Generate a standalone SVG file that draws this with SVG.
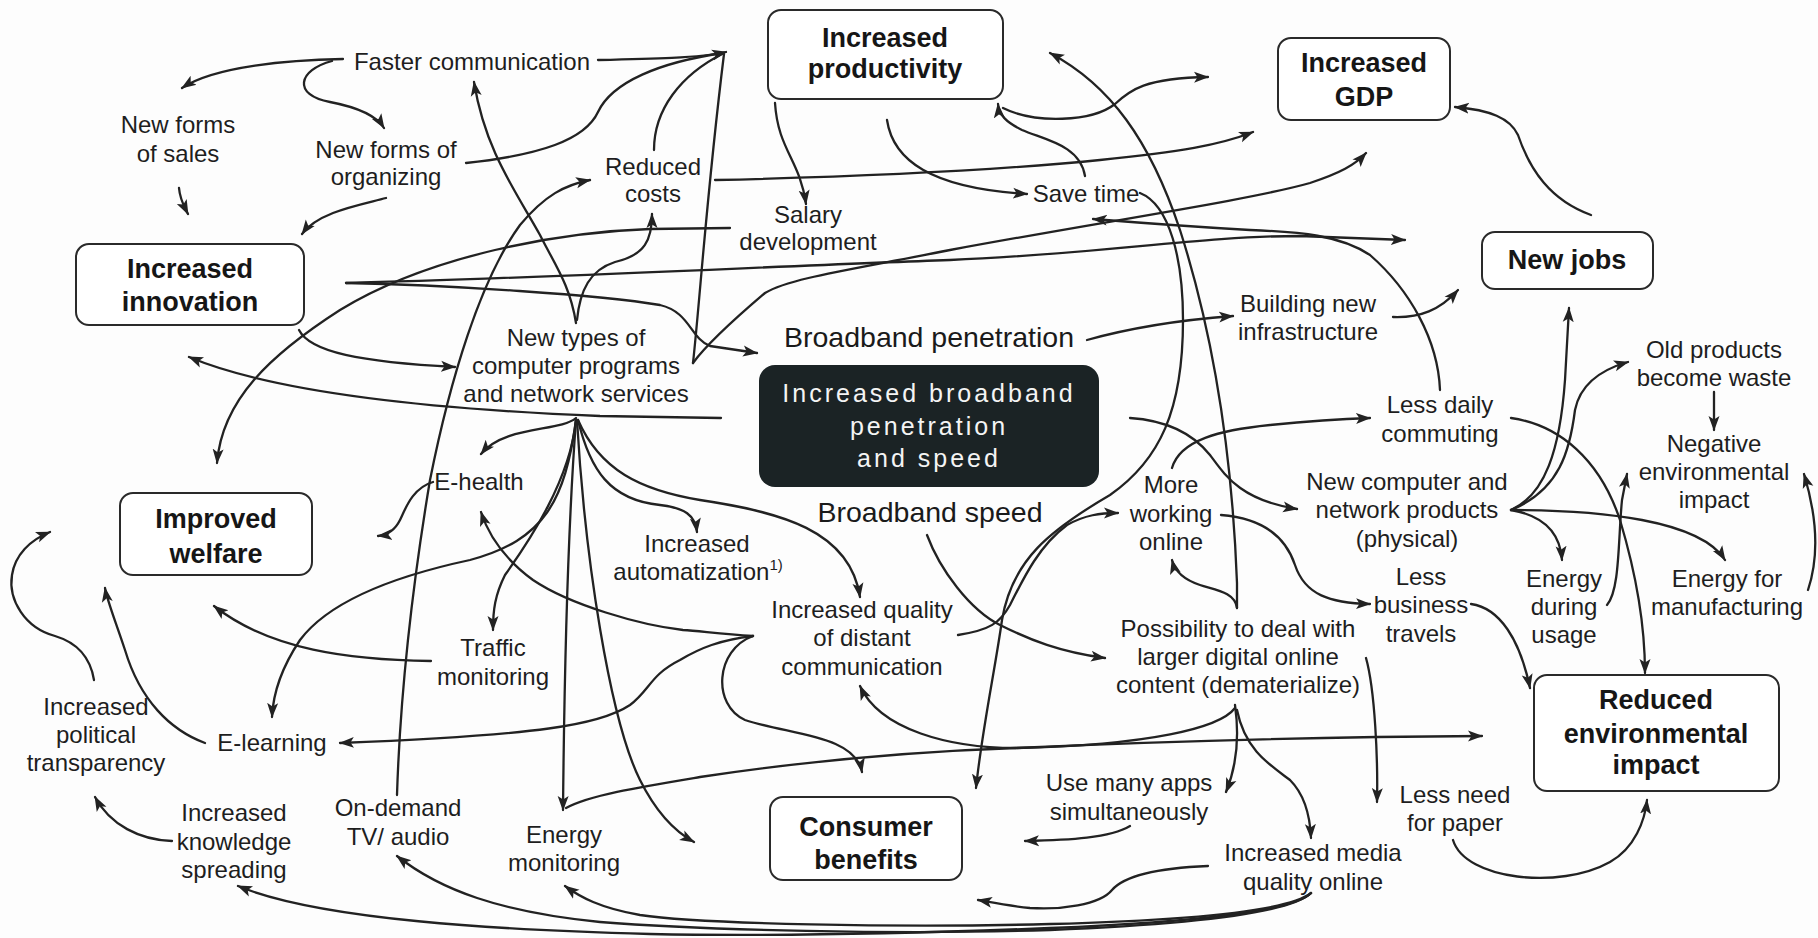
<svg xmlns="http://www.w3.org/2000/svg" width="1818" height="938" viewBox="0 0 1818 938">
<defs>
<style>
.t{font-family:"Liberation Sans",Arial,Helvetica,sans-serif;font-size:24px;fill:#1e1e1e;text-anchor:middle}
.b{font-weight:bold;font-size:27px;fill:#161616}
.bb{font-size:28.5px;fill:#1a1a1a}
.w{fill:#f4f4f4;font-size:25px;letter-spacing:3px}
.box{fill:#ffffff;stroke:#2a2a2a;stroke-width:2}
.c{fill:none;stroke:#222;stroke-width:2.3;stroke-linecap:round;stroke-linejoin:round}
.a{marker-end:url(#ah)}
</style>
<marker id="ah" markerUnits="userSpaceOnUse" markerWidth="18" markerHeight="14" refX="14" refY="6" orient="auto">
<path d="M0,0.5 L15,6 L0,11.5 L3.5,6 z" fill="#222"/>
</marker>
</defs>
<rect x="0" y="0" width="1818" height="938" fill="#fdfdfd"/>

<g id="connectors">
<path class="c a" d="M343,59 C290,60 215,66 182,88"/>
<path class="c a" d="M332,61 C298,70 292,95 330,102 C356,107 376,115 384,128"/>
<path class="c a" d="M598,60 C650,59 700,58 726,52"/>
<path class="c" d="M466,163 C540,155 585,140 598,112 C612,82 660,62 724,53"/>
<path class="c" d="M654,150 C654,110 680,75 724,53"/>
<path class="c" d="M693,363 C700,300 706,200 724,54"/>
<path class="c a" d="M693,363 C710,340 745,310 765,293 C790,278 850,270 950,250 C1100,222 1250,200 1310,183 C1340,173 1355,165 1366,153"/>
<path class="c a" d="M179,188 C180,200 184,206 188,214"/>
<path class="c a" d="M386,198 C360,205 318,212 302,234"/>
<path class="c a" d="M346,283 C550,278 800,265 950,260 C1100,254 1200,236 1300,236 L1405,240"/>
<path class="c a" d="M346,283 C450,285 600,295 660,305 C690,312 690,338 710,346 L757,353"/>
<path class="c a" d="M299,330 C310,352 360,362 455,367"/>
<path class="c a" d="M721,418 L600,416 C450,410 280,395 189,357"/>
<path class="c a" d="M730,228 L650,229 C560,232 430,255 340,310 C270,355 222,400 217,463"/>
<path class="c a" d="M576,323 C570,285 555,265 540,235 C515,190 485,150 474,82"/>
<path class="c a" d="M577,320 C580,290 590,270 615,262 C645,255 652,240 652,214"/>
<path class="c a" d="M397,795 C400,700 410,600 430,480 C450,380 480,280 520,225 C545,195 565,185 590,180"/>
<path class="c a" d="M715,180 C850,177 1000,170 1100,160 C1180,152 1220,145 1253,132"/>
<path class="c a" d="M775,103 C778,150 800,160 806,204"/>
<path class="c a" d="M887,120 C893,160 930,188 1027,194"/>
<path class="c a" d="M1085,176 C1080,145 1045,140 1022,130 C1006,122 999,115 998,104"/>
<path class="c a" d="M1003,108 C1035,124 1092,122 1115,104 C1130,90 1145,78 1208,77"/>
<path class="c a" d="M1237,608 L1237,583 C1232,450 1212,330 1180,230 C1150,140 1110,85 1050,53"/>
<path class="c a" d="M1140,193 C1170,205 1183,260 1183,320 C1183,410 1160,460 1110,495 C1050,530 1012,560 1002,620 C995,670 982,730 976,788"/>
<path class="c a" d="M1087,340 C1130,328 1180,320 1233,316"/>
<path class="c a" d="M1393,317 C1420,318 1440,310 1458,290"/>
<path class="c a" d="M1440,390 C1438,340 1410,290 1370,255 C1340,235 1300,232 1250,230 C1180,226 1130,222 1093,219"/>
<path class="c a" d="M1130,418 C1160,420 1190,430 1210,455 C1225,475 1240,500 1297,509"/>
<path class="c a" d="M1172,468 C1180,440 1220,430 1270,425 C1310,421 1340,419 1370,418"/>
<path class="c a" d="M1221,515 C1260,518 1285,535 1295,565 C1305,595 1330,603 1370,604"/>
<path class="c a" d="M958,635 C990,630 1000,623 1010,605 C1025,575 1040,545 1067,525 C1085,515 1100,513 1118,513"/>
<path class="c a" d="M927,535 C940,570 970,610 1000,625 C1030,640 1060,652 1105,658"/>
<path class="c a" d="M1237,608 C1235,592 1215,590 1200,585 C1185,580 1175,572 1172,560"/>
<path class="c a" d="M1471,604 C1500,608 1520,640 1530,688"/>
<path class="c a" d="M1511,418 C1560,425 1600,460 1620,520 C1635,570 1645,620 1645,673"/>
<path class="c a" d="M1511,510 C1545,495 1560,450 1565,380 L1569,308"/>
<path class="c a" d="M1511,510 C1560,490 1570,450 1575,410 C1580,385 1600,370 1628,362"/>
<path class="c a" d="M1511,510 C1540,515 1560,530 1562,560"/>
<path class="c a" d="M1511,510 C1600,510 1700,520 1725,560"/>
<path class="c a" d="M1714,392 L1714,430"/>
<path class="c a" d="M1607,605 C1620,590 1618,540 1622,500 L1627,474"/>
<path class="c a" d="M1808,590 C1818,560 1818,520 1804,474"/>
<path class="c a" d="M1453,840 C1465,880 1560,890 1610,862 C1635,848 1645,820 1647,800"/>
<path class="c a" d="M566,808 C590,795 640,787 700,777 C800,762 900,752 1016,748 C1150,742 1300,737 1482,736"/>
<path class="c a" d="M1235,708 C1220,728 1150,745 1016,748 C950,748 880,730 860,686"/>
<path class="c a" d="M1235,705 C1240,740 1235,770 1226,792"/>
<path class="c a" d="M1237,710 C1245,750 1270,765 1290,780 C1305,795 1310,815 1311,838"/>
<path class="c a" d="M1366,658 C1375,690 1378,760 1377,802"/>
<path class="c a" d="M1130,826 C1110,838 1070,840 1025,841"/>
<path class="c a" d="M1208,866 C1160,868 1125,875 1112,890 C1100,905 1060,910 1030,908 C1010,906 995,903 978,900"/>
<path class="c a" d="M1311,893 C1295,910 1200,922 1050,928 C900,934 750,936 650,934 C500,930 320,920 238,886"/>
<path class="c a" d="M1311,893 C1292,912 1200,924 1050,930 C900,935 700,930 600,922 C500,912 440,890 397,856"/>
<path class="c a" d="M1311,893 C1290,910 1200,920 1050,924 C900,928 700,924 640,915 C600,908 580,897 565,886"/>
<path class="c a" d="M576,418 C560,432 505,425 481,454"/>
<path class="c a" d="M576,420 C570,480 530,540 505,575 C495,595 493,610 493,630"/>
<path class="c a" d="M576,420 C565,500 545,540 470,560 C400,575 330,600 300,640 C280,670 273,695 272,717"/>
<path class="c a" d="M578,420 C590,470 610,500 660,505 C685,508 695,515 697,532"/>
<path class="c a" d="M578,420 C600,470 640,490 700,500 C780,512 850,530 860,597"/>
<path class="c a" d="M576,420 C570,500 565,600 563,810"/>
<path class="c a" d="M577,420 C585,560 610,720 640,780 C655,810 672,830 694,842"/>
<path class="c a" d="M433,482 C412,488 405,510 400,520 C395,530 388,535 378,536"/>
<path class="c a" d="M431,661 C350,660 270,650 214,606"/>
<path class="c a" d="M205,743 C170,730 140,700 125,650 C115,620 107,600 105,588"/>
<path class="c a" d="M94,680 C90,655 75,642 55,636 C25,628 8,600 12,575 C15,555 30,540 50,532"/>
<path class="c a" d="M172,841 C140,840 110,825 95,797"/>
<path class="c a" d="M753,636 C720,634 700,631 683,630 C640,625 570,605 533,580 C510,563 490,540 481,512"/>
<path class="c a" d="M753,636 C720,640 700,648 680,660 C650,675 650,690 630,705 C600,725 540,735 340,743"/>
<path class="c a" d="M753,636 C715,650 712,705 745,720 C790,735 855,735 862,772"/>
<path class="c a" d="M1591,215 C1550,200 1530,170 1518,135 C1510,118 1490,110 1455,107"/>
</g>

<g id="n-productivity"><rect class="box" x="768" y="10" width="235" height="89" rx="13"/><text class="t b" x="885" y="47">Increased</text><text class="t b" x="885" y="78">productivity</text></g>
<g id="n-gdp"><rect class="box" x="1278" y="38" width="172" height="82" rx="13"/><text class="t b" x="1364" y="72">Increased</text><text class="t b" x="1364" y="106">GDP</text></g>
<g id="n-newjobs"><rect class="box" x="1482" y="232" width="171" height="57" rx="13"/><text class="t b" x="1567" y="269">New jobs</text></g>
<g id="n-innovation"><rect class="box" x="76" y="244" width="228" height="81" rx="13"/><text class="t b" x="190" y="278">Increased</text><text class="t b" x="190" y="311">innovation</text></g>
<g id="n-welfare"><rect class="box" x="120" y="493" width="192" height="82" rx="13"/><text class="t b" x="216" y="528">Improved</text><text class="t b" x="216" y="563">welfare</text></g>
<g id="n-consumer"><rect class="box" x="770" y="797" width="192" height="83" rx="13"/><text class="t b" x="866" y="836">Consumer</text><text class="t b" x="866" y="869">benefits</text></g>
<g id="n-reduced-env"><rect class="box" x="1534" y="675" width="245" height="116" rx="13"/><text class="t b" x="1656" y="709">Reduced</text><text class="t b" x="1656" y="743">environmental</text><text class="t b" x="1656" y="774">impact</text></g>
<g id="n-central"><rect x="759" y="365" width="340" height="122" rx="16" fill="#1b2325"/><text class="t w" x="929" y="402">Increased broadband</text><text class="t w" x="929" y="435">penetration</text><text class="t w" x="929" y="467">and speed</text></g>
<g id="n-bb-pen"><text class="t bb" x="929" y="347">Broadband penetration</text></g>
<g id="n-bb-speed"><text class="t bb" x="930" y="522">Broadband speed</text></g>
<g id="n-faster"><text class="t" x="472" y="70">Faster communication</text></g>
<g id="n-sales"><text class="t" x="178" y="133">New forms</text><text class="t" x="178" y="162">of sales</text></g>
<g id="n-organizing"><text class="t" x="386" y="158">New forms of</text><text class="t" x="386" y="185">organizing</text></g>
<g id="n-costs"><text class="t" x="653" y="175">Reduced</text><text class="t" x="653" y="202">costs</text></g>
<g id="n-salary"><text class="t" x="808" y="223">Salary</text><text class="t" x="808" y="250">development</text></g>
<g id="n-savetime"><text class="t" x="1086" y="202">Save time</text></g>
<g id="n-building"><text class="t" x="1308" y="312">Building new</text><text class="t" x="1308" y="340">infrastructure</text></g>
<g id="n-programs"><text class="t" x="576" y="346">New types of</text><text class="t" x="576" y="374">computer programs</text><text class="t" x="576" y="402">and network services</text></g>
<g id="n-ehealth"><text class="t" x="479" y="490">E-health</text></g>
<g id="n-automat"><text class="t" x="697" y="552">Increased</text><text class="t" x="698" y="580">automatization<tspan font-size="15" dy="-10">1)</tspan></text></g>
<g id="n-distant"><text class="t" x="862" y="618">Increased quality</text><text class="t" x="862" y="646">of distant</text><text class="t" x="862" y="675">communication</text></g>
<g id="n-traffic"><text class="t" x="493" y="656">Traffic</text><text class="t" x="493" y="685">monitoring</text></g>
<g id="n-working"><text class="t" x="1171" y="493">More</text><text class="t" x="1171" y="522">working</text><text class="t" x="1171" y="550">online</text></g>
<g id="n-commuting"><text class="t" x="1440" y="413">Less daily</text><text class="t" x="1440" y="442">commuting</text></g>
<g id="n-ncp"><text class="t" x="1407" y="490">New computer and</text><text class="t" x="1407" y="518">network products</text><text class="t" x="1407" y="547">(physical)</text></g>
<g id="n-old"><text class="t" x="1714" y="358">Old products</text><text class="t" x="1714" y="386">become waste</text></g>
<g id="n-negative"><text class="t" x="1714" y="452">Negative</text><text class="t" x="1714" y="480">environmental</text><text class="t" x="1714" y="508">impact</text></g>
<g id="n-business"><text class="t" x="1421" y="585">Less</text><text class="t" x="1421" y="613">business</text><text class="t" x="1421" y="642">travels</text></g>
<g id="n-energy-usage"><text class="t" x="1564" y="587">Energy</text><text class="t" x="1564" y="615">during</text><text class="t" x="1564" y="643">usage</text></g>
<g id="n-energy-manuf"><text class="t" x="1727" y="587">Energy for</text><text class="t" x="1727" y="615">manufacturing</text></g>
<g id="n-possibility"><text class="t" x="1238" y="637">Possibility to deal with</text><text class="t" x="1238" y="665">larger digital online</text><text class="t" x="1238" y="693">content (dematerialize)</text></g>
<g id="n-paper"><text class="t" x="1455" y="803">Less need</text><text class="t" x="1455" y="831">for paper</text></g>
<g id="n-apps"><text class="t" x="1129" y="791">Use many apps</text><text class="t" x="1129" y="820">simultaneously</text></g>
<g id="n-media"><text class="t" x="1313" y="861">Increased media</text><text class="t" x="1313" y="890">quality online</text></g>
<g id="n-political"><text class="t" x="96" y="715">Increased</text><text class="t" x="96" y="743">political</text><text class="t" x="96" y="771">transparency</text></g>
<g id="n-elearning"><text class="t" x="272" y="751">E-learning</text></g>
<g id="n-knowledge"><text class="t" x="234" y="821">Increased</text><text class="t" x="234" y="850">knowledge</text><text class="t" x="234" y="878">spreading</text></g>
<g id="n-ondemand"><text class="t" x="398" y="816">On-demand</text><text class="t" x="398" y="845">TV/ audio</text></g>
<g id="n-energy-mon"><text class="t" x="564" y="843">Energy</text><text class="t" x="564" y="871">monitoring</text></g>
</svg>
